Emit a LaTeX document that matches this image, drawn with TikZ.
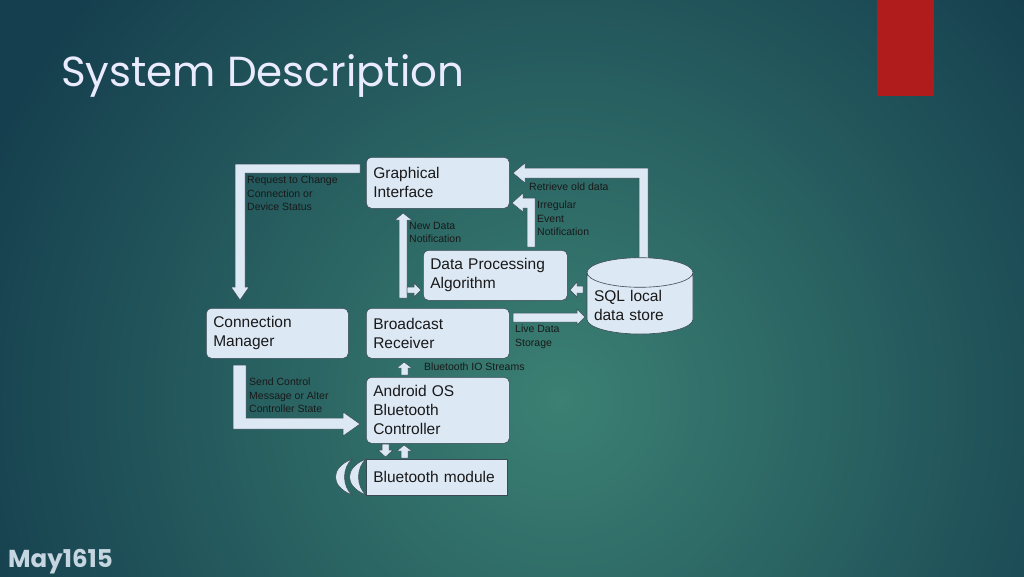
\documentclass[tikz,border=0pt]{standalone}
\usepackage{fontspec}
\setmainfont{Liberation Sans}
\newfontfamily\titlefont{Poppins}
\usetikzlibrary{shapes.geometric}
\definecolor{bgdark}{HTML}{153F4E}
\definecolor{bgmid}{HTML}{3B8073}
\definecolor{boxfill}{HTML}{DCE8F4}
\definecolor{boxline}{HTML}{3A4A55}
\definecolor{redtab}{HTML}{B01C1C}
\definecolor{foot}{HTML}{C5D6E0}
\tikzset{
  box/.style={draw=boxline,line width=0.6pt,fill=boxfill,rounded corners=5pt,align=left,
    font=\fontsize{15.5}{19}\selectfont,text=black!90,inner sep=7pt,anchor=north west},
  blk/.style={draw=boxline,line width=0.5pt,fill=boxfill},
  lbl/.style={font=\fontsize{10.5}{13.4}\selectfont,align=left,anchor=north west,inner sep=0pt,text=black!90},
}
\begin{document}
\begin{tikzpicture}[x=1pt,y=-1pt]
\useasboundingbox (0,0) rectangle (1024,576);
\fill[bgdark] (0,0) rectangle (1024,576);
\begin{scope}
\clip (0,0) rectangle (1024,576);
\shade[inner color=bgmid,outer color=bgdark] (560,400) circle (620);
\end{scope}
\fill[redtab] (877,0) rectangle (934,96);
\node[anchor=base west,inner sep=0pt,font=\titlefont\fontsize{42}{48}\selectfont,text=white!92!blue] (title) at (61,86) {System Description};
\node[anchor=base west,inner sep=0pt,font=\titlefont\bfseries\fontsize{24.5}{28}\selectfont,text=foot] (footer) at (8,567) {May1615};

% block arrows
\draw[blk] (360,164)--(235,164)--(235,287)--(231,287)--(240,300)--(249,287)--(245,287)--(245,173)--(360,173)--cycle;
\draw[blk] (233,365)--(246,365)--(246,418)--(343,418)--(343,412)--(360,424)--(343,436)--(343,429)--(233,429)--cycle;
\draw[blk] (399,298)--(399,220)--(395,220)--(403,213)--(412,220)--(407,220)--(407,298)--cycle;
\draw[blk] (407,287)--(414,287)--(414,283)--(421,290)--(414,297)--(414,293)--(407,293)--cycle;
\draw[blk] (527,247)--(535,247)--(535,198)--(523,198)--(523,193)--(512,203)--(523,212)--(523,208)--(527,208)--cycle;
\draw[blk] (639,272)--(648,272)--(648,168)--(525,168)--(525,163)--(513,173)--(525,183)--(525,178)--(639,178)--cycle;
\draw[blk] (583,286)--(577,286)--(577,282)--(570,290)--(577,297)--(577,293)--(583,293)--cycle;
\draw[blk] (513,313)--(577,313)--(577,309)--(585,317)--(577,325)--(577,322)--(513,322)--cycle;
\draw[blk] (401,375)--(401,368)--(397,368)--(404,362)--(412,368)--(408,368)--(408,375)--cycle;
\draw[blk] (382,444)--(389,444)--(389,450)--(393,450)--(385.5,457)--(378,450)--(382,450)--cycle;
\draw[blk] (401,458)--(401,451)--(397,451)--(404,445)--(412,451)--(408,451)--(408,458)--cycle;

% boxes
\node[box,text width=129pt,minimum height=51pt] (gi) at (366,157) {Graphical\\Interface};
\node[box,text width=130pt,minimum height=50pt] (dp) at (423,250) {Data Processing\\Algorithm};
\node[box,text width=128pt,minimum height=50pt] (cm) at (206,308) {Connection\\Manager};
\node[box,text width=129pt,minimum height=50pt] (br) at (366,308) {Broadcast\\Receiver};
\node[box,text width=129pt,minimum height=66pt] (ao) at (366,377) {Android OS\\Bluetooth\\Controller};
\node[box,rounded corners=0pt,text width=127pt,minimum height=36pt] (bm) at (366,459) {Bluetooth module};
\node[draw=boxline,line width=0.6pt,fill=boxfill,shape=cylinder,shape border rotate=90,aspect=0.3,
  minimum width=106pt,minimum height=68pt,text width=92pt,align=left,font=\fontsize{15.5}{19}\selectfont,text=black!90] (sql) at (640,306) {\\[-8pt]SQL local\\data store};

% crescents
\draw[blk] (352,459) .. controls (330,468) and (330,486) .. (352,495) .. controls (342,486) and (342,468) .. (352,459) -- cycle;
\draw[blk] (366,459) .. controls (344,468) and (344,486) .. (366,495) .. controls (356,486) and (356,468) .. (366,459) -- cycle;

% labels
\node[lbl] (l1) at (247,176) {Request to Change\\Connection or\\Device Status};
\node[lbl] (l2) at (529,183) {Retrieve old data};
\node[lbl] (l3) at (537,201) {Irregular\\Event\\Notification};
\node[lbl] (l4) at (409,222) {New Data\\Notification};
\node[lbl] (l5) at (515,325) {Live Data\\Storage};
\node[lbl] (l6) at (424,363) {Bluetooth IO Streams};
\node[lbl] (l7) at (249,378) {Send Control\\Message or Alter\\Controller State};
\end{tikzpicture}
\end{document}
